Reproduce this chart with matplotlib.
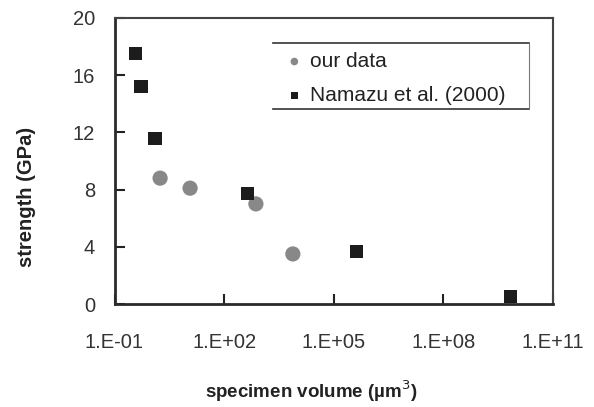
import matplotlib
matplotlib.use("Agg")
import matplotlib.pyplot as plt
from matplotlib.ticker import FixedLocator, FuncFormatter, NullLocator
import numpy as np

plt.rcParams['font.family'] = ['Liberation Sans', 'DejaVu Sans']

# data (volume in um^3, strength in GPa)
our_volume = [1.77, 11.7, 740, 7600]
our_strength = [8.8, 8.1, 7.0, 3.5]
namazu_volume = [0.38, 0.53, 1.29, 440, 4.2e5, 6.9e9]
namazu_strength = [17.5, 15.2, 11.6, 7.7, 3.7, 0.5]

xticks = [1e-1, 1e2, 1e5, 1e8, 1e11]
yticks = [0, 4, 8, 12, 16, 20]

W, H = 594, 407
fig = plt.figure(figsize=(W / 100, H / 100), dpi=100)
fig.patch.set_facecolor('white')
L, R, T, B = 114.5, 553, 18, 304
ax = fig.add_axes([L / W, 1 - B / H, (R - L) / W, (B - T) / H])

ax.scatter(our_volume, our_strength, s=120, marker='o', color='#888888',
           edgecolors='none', zorder=3, label='our data')
ax.scatter(namazu_volume, namazu_strength, s=90, marker='s', color='#1c1c1c',
           edgecolors='none', zorder=3, label='Namazu et al. (2000)')

ax.set_xscale('log')
ax.set_xlim(1e-1, 1e11)
ax.set_ylim(0, 20)
ax.xaxis.set_major_locator(FixedLocator(xticks))
ax.xaxis.set_minor_locator(NullLocator())
ax.xaxis.set_major_formatter(FuncFormatter(lambda v, p: "1.E{:+03d}".format(int(round(np.log10(v))))))
ax.set_yticks(yticks)

ax.tick_params(axis='both', direction='in', labelsize=14.5, colors='#222222',
               width=1.5, length=7)
ax.tick_params(axis='x', pad=21)
ax.tick_params(axis='y', pad=14)
for lab in ax.get_xticklabels() + ax.get_yticklabels():
    lab.set_color('#333333')

for side in ['left', 'bottom']:
    ax.spines[side].set_linewidth(2.0)
    ax.spines[side].set_color('#2a2a2a')
for side in ['top', 'right']:
    ax.spines[side].set_linewidth(1.5)
    ax.spines[side].set_color('#444444')

fig.text(27 / W, 1 - 197 / H, 'strength (GPa)', fontsize=14.5, fontweight='bold',
         color='#222222', ha='center', va='center', rotation=90)
fig.text(311 / W, 1 - 391 / H, 'specimen volume (\u00b5m$^3$)', fontsize=13.5,
         fontweight='bold', color='#222222', ha='center', va='center')

# legend box: top, bottom and right edges only
def axx(px):
    return (px - L) / (R - L)

def axy(py):
    return 1 - (py - T) / (B - T)

leg = ax.legend(loc='upper left', bbox_to_anchor=(axx(285), axy(52)),
                frameon=False, fontsize=15, markerscale=0.5, handletextpad=0.3,
                borderaxespad=0, borderpad=0, labelspacing=0.72, handlelength=0.9)
for t in leg.get_texts():
    t.set_color('#222222')

x0, x1 = axx(273), axx(529)
yt, yb = axy(42.7), axy(109)
ax.plot([x0, x1], [yt, yt], transform=ax.transAxes, color='#333333', lw=1.2, zorder=4)
ax.plot([x0, x1], [yb, yb], transform=ax.transAxes, color='#333333', lw=1.2, zorder=4)
ax.plot([x1, x1], [yb, yt], transform=ax.transAxes, color='#777777', lw=0.8, zorder=4)

fig.savefig('out.png', dpi=100)
